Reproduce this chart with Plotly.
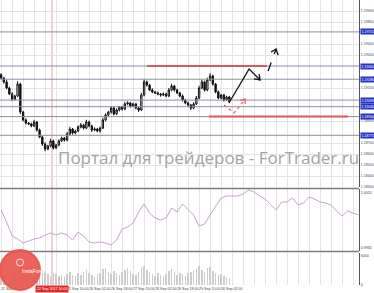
import plotly.graph_objects as go

# ---------------- data ----------------
candle_idx = list(range(84))
first_open = 1.19320
closes = [
    1.19291, 1.19255, 1.19200, 1.19145, 1.19100, 1.19127, 1.19236, 1.18982, 1.18909, 1.18882, 1.18873, 1.18855,
    1.18891, 1.18818, 1.18755, 1.18691, 1.18645, 1.18673, 1.18718, 1.18655, 1.18682, 1.18718, 1.18745, 1.18727,
    1.18782, 1.18827, 1.18791, 1.18809, 1.18845, 1.18864, 1.18836, 1.18891, 1.18855, 1.18818, 1.18827, 1.18809,
    1.18836, 1.18909, 1.18955, 1.18982, 1.19018, 1.18964, 1.19000, 1.19027, 1.19009, 1.19055, 1.19064, 1.19036,
    1.19055, 1.19018, 1.19000, 1.19136, 1.19255, 1.19227, 1.19182, 1.19164, 1.19155, 1.19145, 1.19136, 1.19145,
    1.19127, 1.19182, 1.19218, 1.19182, 1.19155, 1.19127, 1.19091, 1.19064, 1.19045, 1.19018, 1.19055, 1.19109,
    1.19200, 1.19255, 1.19182, 1.19273, 1.19309, 1.19236, 1.19164, 1.19109, 1.19136, 1.19091, 1.19118, 1.19073,
]
wick_up = [
    0.00015, 0.00010, 0.00020, 0.00012, 0.00018, 0.00010, 0.00025, 0.00012, 0.00010, 0.00015, 0.00008, 0.00012,
    0.00020, 0.00010, 0.00012, 0.00008, 0.00015, 0.00010, 0.00020, 0.00012, 0.00010, 0.00015, 0.00012, 0.00010,
    0.00018, 0.00020, 0.00010, 0.00012, 0.00015, 0.00018, 0.00010, 0.00020, 0.00012, 0.00010, 0.00015, 0.00010,
    0.00012, 0.00020, 0.00015, 0.00010, 0.00018, 0.00012, 0.00015, 0.00010, 0.00012, 0.00020, 0.00015, 0.00010,
    0.00012, 0.00010, 0.00015, 0.00020, 0.00025, 0.00012, 0.00010, 0.00015, 0.00010, 0.00012, 0.00010, 0.00015,
    0.00012, 0.00018, 0.00020, 0.00010, 0.00012, 0.00010, 0.00015, 0.00010, 0.00012, 0.00010, 0.00015, 0.00018,
    0.00020, 0.00022, 0.00012, 0.00020, 0.00025, 0.00012, 0.00010, 0.00015, 0.00012, 0.00010, 0.00012, 0.00010,
]
wick_dn = [
    0.00010, 0.00015, 0.00012, 0.00010, 0.00020, 0.00012, 0.00010, 0.00018, 0.00012, 0.00015, 0.00010, 0.00012,
    0.00010, 0.00015, 0.00012, 0.00018, 0.00020, 0.00010, 0.00012, 0.00015, 0.00010, 0.00012, 0.00010, 0.00015,
    0.00012, 0.00010, 0.00015, 0.00012, 0.00010, 0.00012, 0.00015, 0.00010, 0.00012, 0.00018, 0.00010, 0.00012,
    0.00015, 0.00010, 0.00012, 0.00010, 0.00015, 0.00012, 0.00010, 0.00012, 0.00015, 0.00010, 0.00012, 0.00015,
    0.00010, 0.00012, 0.00018, 0.00010, 0.00012, 0.00015, 0.00010, 0.00012, 0.00010, 0.00012, 0.00015, 0.00010,
    0.00012, 0.00010, 0.00012, 0.00015, 0.00010, 0.00012, 0.00015, 0.00012, 0.00010, 0.00018, 0.00012, 0.00010,
    0.00012, 0.00010, 0.00015, 0.00012, 0.00010, 0.00015, 0.00012, 0.00010, 0.00012, 0.00015, 0.00010, 0.00012,
]
volumes = [
    2600, 2200, 1900, 2400, 2100, 2800, 3300, 3600, 2500, 2000, 1800, 2200,
    1700, 2100, 2600, 3000, 2800, 2200, 1900, 2500, 2300, 1800, 2000, 1600,
    2300, 2700, 2100, 1900, 2400, 2000, 2600, 3100, 2400, 2000, 1700, 2200,
    2500, 3200, 3500, 2700, 2300, 2900, 2500, 2100, 2600, 3000, 3400, 2800,
    2300, 2000, 2700, 3600, 3900, 3100, 2600, 2200, 1900, 2400, 2100, 1800,
    2300, 2800, 3300, 2600, 2100, 2500, 2200, 1900, 2400, 2700, 3000, 3500,
    3800, 3000, 2600, 3400, 3700, 2900, 2400, 2000, 2300, 1800, 1600, 1400,
]
ind_idx = list(range(0, 132, 2))
ind_values = [
    1.0003, 0.9991, 0.9977, 0.9974, 0.9970, 0.9972, 0.9974, 0.9975, 0.9978, 0.9980, 0.9978,
    0.9980, 0.9978, 0.9973, 0.9981, 0.9977, 0.9971, 0.9970, 0.9971, 0.9970, 0.9968, 0.9973,
    0.9984, 0.9986, 0.9990, 1.0001, 1.0009, 1.0000, 0.9995, 0.9993, 0.9995, 1.0005, 1.0001,
    1.0009, 1.0004, 0.9998, 0.9987, 0.9989, 0.9998, 1.0007, 1.0015, 1.0017, 1.0017, 1.0017,
    1.0019, 1.0023, 1.0021, 1.0017, 1.0014, 1.0008, 1.0003, 1.0011, 1.0011, 1.0015, 1.0008,
    1.0010, 1.0016, 1.0014, 1.0011, 1.0010, 1.0008, 1.0002, 0.9997, 1.0002, 1.0000, 0.9998,
]
level_prices = [1.19710, 1.19400, 1.19280, 1.19090, 1.19030, 1.18940, 1.18770]
price_ticks = [1.18300, 1.18400, 1.18500, 1.18600, 1.18700, 1.18900,
               1.19200, 1.19500, 1.19600, 1.19800, 1.19900, 1.20000]
ind_ticks = [0.9965, 1.0020]
vol_ticks = [0, 6000]
red_upper = dict(x0=53.1, x1=96.7, price=1.19400)
red_lower = dict(x0=75.6, x1=126.2, price=1.18940)
vline_idx = 18.5
vline_label = "22 Sep 2017 10:00"
time_tick_idx = [0, 24, 32, 40, 48, 56, 64, 72, 80]
time_labels = ["21 Sep 2017", "25 Sep 10:00", "26 Sep 02:00", "26 Sep 18:00", "27 Sep 10:00",
               "28 Sep 02:00", "28 Sep 18:00", "29 Sep 10:00", "30 Sep 02:00"]
watermark = "Портал для трейдеров - ForTrader.ru"

opens = [first_open] + closes[:-1]
highs = [max(o, c) + w for o, c, w in zip(opens, closes, wick_up)]
lows = [min(o, c) - w for o, c, w in zip(opens, closes, wick_dn)]

# ---------------- layout geometry ----------------
W, H = 374, 293
ML, MR, MT, MB = 0, 15, 0, 8
PW, PH = W - ML - MR, H - MT - MB


def py(p):  # pixel row -> paper y
    return 1 - p / PH


def px(p):
    return p / PW


fig = go.Figure()
fig.add_trace(go.Bar(
    x=candle_idx, y=volumes, xaxis="x", yaxis="y3",
    marker=dict(color="#cccccc", line=dict(width=0)), width=0.5,
    hoverinfo="skip", showlegend=False,
))
fig.add_trace(go.Candlestick(
    x=candle_idx, open=opens, high=highs, low=lows, close=closes,
    xaxis="x", yaxis="y",
    increasing=dict(line=dict(color="#111", width=1), fillcolor="#ffffff"),
    decreasing=dict(line=dict(color="#111", width=1), fillcolor="#111111"),
    whiskerwidth=0, hoverinfo="skip", showlegend=False,
))
fig.add_trace(go.Scatter(
    x=ind_idx, y=ind_values, xaxis="x", yaxis="y2", mode="lines",
    line=dict(color="#c99fcf", width=1), hoverinfo="skip", showlegend=False,
))

tickvals = list(range(0, 132, 4))
ticktext = []
for v in tickvals:
    ticktext.append(time_labels[time_tick_idx.index(v)] if v in time_tick_idx else "")

grid = "#e4e4e4"
FONT = "Liberation Sans"
small = dict(size=3.6, color="#444", family=FONT)

shapes = []
annotations = []

# levels
for lv in level_prices:
    shapes.append(dict(type="line", xref="paper", x0=0, x1=1, yref="y", y0=lv, y1=lv,
                       line=dict(color="#8d8da3", width=1), layer="above"))
    annotations.append(dict(xref="paper", x=1.002, xanchor="left", yref="y", y=lv, yanchor="middle",
                            text=f"{lv:.5f}", showarrow=False, bgcolor="#2834c4",
                            font=dict(size=3.6, color="white", family=FONT), borderpad=0.5))

# red horizontal lines
for r in (red_upper, red_lower):
    shapes.append(dict(type="line", xref="x", x0=r["x0"], x1=r["x1"], yref="y", y0=r["price"], y1=r["price"],
                       line=dict(color="#d9595a", width=2)))

# red vertical marker
shapes.append(dict(type="line", xref="x", x0=vline_idx, x1=vline_idx, yref="paper", y0=0, y1=1,
                   line=dict(color="#eba3a3", width=1), layer="below"))

# panel borders
for p in (188.5, 251.5):
    shapes.append(dict(type="line", xref="paper", x0=0, x1=1, yref="paper", y0=py(p), y1=py(p),
                       line=dict(color="#7c7c7c", width=1.5)))

# forecast arrows (data coords)
black = "#111111"
shapes.append(dict(type="path", xref="x", yref="y",
                   path="M 83.27 1.19082 L 90.18 1.19373 L 94.18 1.19273",
                   line=dict(color=black, width=1.3)))
shapes.append(dict(type="path", xref="x", yref="y",
                   path="M 93.82 1.19327 L 94.18 1.19273 L 92.0 1.19282",
                   line=dict(color=black, width=1.3)))
shapes.append(dict(type="line", xref="x", yref="y", x0=97.09, y0=1.19355, x1=100.0, y1=1.19555,
                   line=dict(color=black, width=1.3, dash="dash")))
shapes.append(dict(type="path", xref="x", yref="y",
                   path="M 98.18 1.19527 L 100.0 1.19555 L 100.73 1.19500",
                   line=dict(color=black, width=1.3)))
redarrow = "#e0566a"
shapes.append(dict(type="path", xref="x", yref="y",
                   path="M 81.09 1.19045 L 84.73 1.18973 L 88.73 1.19100",
                   line=dict(color=redarrow, width=1.2, dash="dot")))
shapes.append(dict(type="path", xref="x", yref="y",
                   path="M 86.91 1.19086 L 88.73 1.19100 L 88.73 1.19055",
                   line=dict(color=redarrow, width=1.2)))

# logo
shapes.append(dict(type="circle", xref="paper", yref="paper",
                   x0=px(0), x1=px(40), y0=py(290), y1=py(250),
                   fillcolor="rgba(232,86,78,0.92)", line=dict(color="rgba(232,86,78,0.92)", width=2)))
shapes.append(dict(type="circle", xref="paper", yref="paper",
                   x0=px(16.5), x1=px(23.5), y0=py(266), y1=py(259),
                   line=dict(color="white", width=0.8)))
annotations.append(dict(xref="paper", yref="paper", x=px(20), y=py(276), text="InstaForex",
                        showarrow=False, font=dict(size=5, color="white", family=FONT)))

# watermark
annotations.append(dict(xref="paper", yref="paper", x=px(56), xanchor="left", y=py(157), yanchor="middle",
                        text=watermark, showarrow=False,
                        font=dict(size=17, color="#a3a3a3", family="Open Sans")))

# red time label for vertical marker
annotations.append(dict(xref="x", x=vline_idx, yref="paper", y=py(288.5), yanchor="middle",
                        text=vline_label, showarrow=False, bgcolor="#e02a2a",
                        font=dict(size=3.6, color="white", family=FONT), borderpad=1))

fig.update_layout(
    width=W, height=H,
    margin=dict(l=ML, r=MR, t=MT, b=MB, pad=0, autoexpand=False),
    paper_bgcolor="white", plot_bgcolor="white",
    showlegend=False, hovermode=False, bargap=0,
    xaxis=dict(domain=[0, 1], anchor="y3", range=[-0.4, 130.15], automargin=False,
               tickvals=tickvals, ticktext=ticktext, ticklabelposition="outside right",
               tickangle=0, ticks="", tickfont=small, showgrid=True, gridcolor=grid, gridwidth=1,
               zeroline=False, showline=False, rangeslider=dict(visible=False)),
    yaxis=dict(domain=[py(187), 1], anchor="x", side="right", range=[1.18300, 1.20000], automargin=False,
               tickvals=price_ticks, tickformat=".5f", tickfont=small, ticks="",
               showgrid=True, gridcolor=grid, zeroline=False,
               showline=True, linecolor="#555", linewidth=1),
    yaxis2=dict(domain=[py(251), py(189)], anchor="x", side="right", range=[0.9962, 1.0024], automargin=False,
                tickvals=ind_ticks, tickformat=".4f", tickfont=small, ticks="",
                showgrid=False, zeroline=False, showline=True, linecolor="#555", linewidth=1),
    yaxis3=dict(domain=[0, py(253)], anchor="x", side="right", range=[0, 6500], automargin=False,
                tickvals=vol_ticks, tickfont=small, ticks="",
                showgrid=False, zeroline=False, showline=True, linecolor="#555", linewidth=1),
    shapes=shapes, annotations=annotations,
)

fig.write_html("out.html", config=dict(displayModeBar=False, staticPlot=True))
